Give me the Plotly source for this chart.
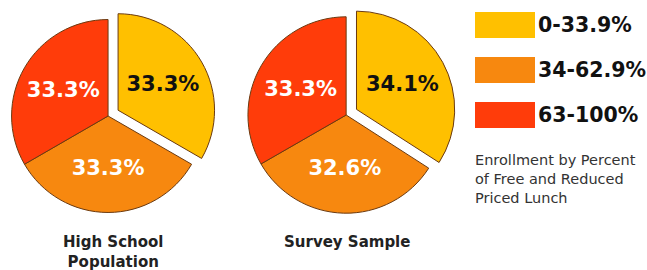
import plotly.graph_objects as go

categories = ["0-33.9%", "34-62.9%", "63-100%"]
hs_population = [33.3, 33.3, 33.3]
survey_sample = [34.1, 32.6, 33.3]
pie_titles = ["High School<br>Population", "Survey Sample"]
caption = "Enrollment by Percent<br>of Free and Reduced<br>Priced Lunch"

colors = ["#FFC000", "#F7880F", "#FF3C0A"]
text_colors = ["#111111", "#FFFFFF", "#FFFFFF"]
W, H = 647, 270
FONT_B = "DejaVu Sans, Arial, sans-serif"

def pie(values, xdom, ydom):
    return go.Pie(
        labels=categories, values=values, sort=False, direction="clockwise",
        rotation=0, pull=[0.12, 0, 0],
        marker=dict(colors=colors, line=dict(color="#6B3A10", width=1)),
        texttemplate="%{value:.1f}%", textposition="inside",
        insidetextorientation="horizontal",
        textfont=dict(family=FONT_B, size=21, color=text_colors, weight="bold"),
        domain=dict(x=xdom, y=ydom), showlegend=False, hoverinfo="label+value",
    )

def py(px):
    return 1 - px / H

fig = go.Figure()
fig.add_trace(pie(hs_population, [0.0, 0.334], [py(226), py(6)]))
fig.add_trace(pie(survey_sample, [0.365, 0.705], [py(225), py(5)]))

annotations = []
for x, t in zip([113, 347], pie_titles):
    annotations.append(dict(x=x / W, y=py(231), xref="paper", yref="paper", text=t,
                            showarrow=False, xanchor="center", yanchor="top",
                            font=dict(family=FONT_B, size=15, color="#222222", weight="bold")))

shapes = []
for i, (cat, col) in enumerate(zip(categories, colors)):
    top = 12 + 45 * i
    shapes.append(dict(type="rect", xref="paper", yref="paper",
                       x0=475 / W, x1=535 / W, y0=py(top + 26), y1=py(top),
                       fillcolor=col, line=dict(width=0)))
    annotations.append(dict(x=536 / W, y=py(top + 13), xref="paper", yref="paper",
                            text=cat, showarrow=False, xanchor="left", yanchor="middle",
                            font=dict(family=FONT_B, size=20.5, color="#111111", weight="bold")))

annotations.append(dict(x=473 / W, y=py(150), xref="paper", yref="paper", text=caption,
                        showarrow=False, xanchor="left", yanchor="top", align="left",
                        font=dict(family="DejaVu Sans, Arial, sans-serif", size=14.5, color="#333333")))

fig.update_layout(width=W, height=H, margin=dict(l=0, r=0, t=0, b=0),
                  paper_bgcolor="white", plot_bgcolor="white",
                  shapes=shapes, annotations=annotations)
fig.write_html("out.html", config={"displayModeBar": False},
               post_script="document.body.style.margin='0';")
